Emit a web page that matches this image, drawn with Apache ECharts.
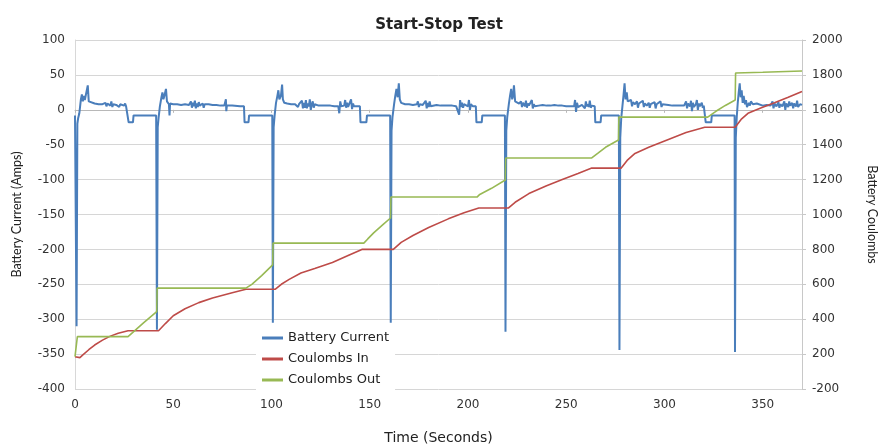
<!DOCTYPE html>
<html>
<head>
<meta charset="utf-8">
<script src="https://cdn.jsdelivr.net/npm/echarts@6/dist/echarts.min.js"></script>
<style>html,body{margin:0;padding:0;background:#fff;}#c{width:878px;height:444px;}</style>
</head>
<body>
<div id="c"></div>
<script>
// ---- Data ----
const seriesNames = ['Battery Current', 'Coulombs In', 'Coulombs Out'];
const leftTicks = { min: -400, max: 100, interval: 50 };
const rightTickLabels = ['-200','200','400','600','800','1000','1200','1400','1600','1800','2000'];
const xTicks = { min: 0, max: 370, interval: 50 };

// Battery Current [seconds, amps]
const batteryCurrent = [
 [0,-8],[0.5,-10],[0.8,-310],[1.2,-20],[1.6,-12],[2.2,-5],[3,15],[3.5,22],[4,12],[4.5,20],[5,14],[6,12],[6.5,35],[7,12],[8,10],[10,9],[12,8],[14,8],[15,7],[15.5,10],[16,5],[16.5,9],[17,8],[18,6],[18.5,12],[19,4],[19.5,8],[21,7],[22,9],[22.5,4],[23,8],[24,7],[25,6],[25.5,9],[26,5],[27,6],[27.3,-18],[29.5,-18],[29.8,-8],[41.3,-8],
 [41.7,-315],[42.1,-25],[42.6,-10],[43.2,5],[44,18],[44.5,25],[45,15],[45.5,20],[46.3,30],[46.8,12],[47.8,8],[48.1,-8],[48.4,9],[50,8],[52,8],[54,7],[56,8],[58,7],[59,12],[59.5,3],[60,10],[60.5,5],[61,13],[61.5,2],[62,9],[62.5,4],[63,11],[63.5,6],[64,8],[65,9],[65.5,3],[66,8],[67,6],[68,8],[70,7],[72,7],[74,6],[76,6],[76.8,15],[77,-2],[77.3,6],[80,6],[84,5],[86,5],[86.3,-18],[88.3,-18],[88.6,-8],[100.4,-8],
 [100.7,-305],[101.1,-25],[101.6,-8],[102.3,10],[103,20],[103.5,28],[104,15],[104.8,20],[105.4,36],[105.8,15],[106.5,10],[108,9],[110,8],[112,8],[113,10],[113.5,4],[114,8],[115,7],[115.5,13],[116,2],[116.5,10],[117,3],[117.5,14],[118,2],[118.5,9],[119,5],[119.5,15],[120,0],[120.5,8],[121,12],[121.5,3],[122,8],[123,7],[124,6],[126,6],[128,6],[130,6],[132,5],[134,5],[134.5,-5],[135,12],[135.5,5],[137,6],[137.5,14],[138,3],[138.5,10],[139,4],[140,6],[140.5,15],[141,1],[141.5,9],[142,5],[143,6],[145,5],[145.3,-18],[148.3,-18],[148.6,-8],[160.4,-8],
 [160.7,-305],[161.1,-30],[161.6,-10],[162.4,8],[163,20],[163.6,30],[164.2,18],[164.8,38],[165.3,15],[166,10],[168,8],[170,8],[172,7],[174,8],[174.5,12],[175,4],[175.5,8],[177,7],[178,8],[178.5,13],[179,2],[179.5,10],[180,4],[180.5,12],[181,5],[182,7],[184,7],[186,6],[188,6],[190,6],[192,6],[194,5],[195,6],[195.5,-7],[196,14],[196.5,4],[197,10],[197.5,3],[198,8],[199,6],[200,5],[200.5,14],[201,0],[201.5,8],[202.5,5],[204,5],[204.3,-18],[207,-18],[207.3,-8],[218.8,-8],
 [219.1,-318],[219.5,-30],[220,-10],[220.8,8],[221.4,20],[222,30],[222.5,15],[223,20],[223.4,35],[224,12],[225,10],[226,9],[227,12],[227.5,4],[228,10],[229,5],[229.5,13],[230,3],[230.5,9],[231,6],[232,8],[232.5,14],[233,2],[233.5,8],[234,5],[235,7],[236,6],[238,7],[240,6],[242,6],[244,7],[246,6],[248,6],[250,5],[252,5],[253,6],[254,5],[254.5,14],[255,-3],[255.5,10],[256,4],[258,7],[259,9],[259.5,2],[260,12],[260.5,5],[261,8],[261.5,4],[262,13],[262.5,3],[263,6],[264.5,5],[264.8,-18],[267.5,-18],[267.8,-8],[276.8,-8],
 [277.1,-344],[277.5,-40],[278,-12],[278.6,5],[279.2,22],[279.7,38],[280.2,15],[280.8,25],[281.3,12],[282,10],[283,14],[283.5,5],[284,11],[285,8],[286,12],[286.5,3],[287,9],[288,7],[289,13],[289.5,4],[290,9],[291,6],[292,10],[292.5,3],[293,8],[294,6],[295,11],[295.5,2],[296,8],[297,7],[298,12],[298.5,4],[299,8],[300,6],[302,7],[304,6],[306,6],[308,6],[310,6],[311,12],[311.5,2],[312,9],[313,5],[313.5,13],[314,-2],[314.5,10],[315,4],[316,8],[316.5,14],[317,0],[317.5,9],[318,5],[319,10],[319.5,3],[320,6],[320.8,5],[321,-18],[323.8,-18],[324.1,-8],[335.7,-8],
 [335.9,-347],[336.3,-40],[336.8,-10],[337.3,10],[337.8,25],[338.3,38],[338.8,18],[339.3,28],[339.8,10],[340.3,20],[341,8],[341.5,14],[342,4],[343,10],[343.5,6],[344,12],[345,8],[346,7],[347,9],[348,7],[350,6],[352,7],[354,6],[355,12],[355.5,2],[356,9],[357,5],[358,11],[358.5,3],[359,8],[360,5],[361,12],[361.5,0],[362,9],[363,4],[363.5,12],[364,6],[365,10],[365.5,2],[366,9],[367,5],[367.5,13],[368,4],[369,8],[370,7]
];

// Coulombs In [seconds, coulombs]
const coulombsIn = [
 [0,185],[1,182],[2.5,180],[4,195],[7,225],[10,252],[14,280],[18,303],[22,320],[27,334],[42.5,334],[46,375],[50,420],[56,460],[63,495],[70,522],[80,552],[87,572],[102,572],[105,600],[109,628],[115,665],[122,690],[131,725],[139,765],[146,800],[162,800],[166,840],[172,880],[180,925],[190,975],[198,1010],[205.5,1037],[220.5,1037],[224,1070],[231,1120],[240,1165],[248,1200],[256,1235],[263,1266],[278,1266],[281,1310],[285,1350],[292,1385],[302,1430],[311,1470],[320.5,1500],[336,1500],[339,1545],[342.5,1580],[349,1610],[356,1640],[363,1672],[370,1705]
];

// Coulombs Out [seconds, coulombs]
const coulombsOut = [
 [0,185],[0.8,185],[1.2,300],[27,300],[28,305],[30,330],[35,380],[41.6,443],[41.8,578],[87,578],[90,600],[95,650],[100.6,711],[100.8,836],[147,836],[149,860],[152,895],[157,945],[160.6,980],[160.8,1100],[204.6,1100],[206,1115],[212,1150],[219,1198],[219.2,1324],[263,1324],[266,1350],[270,1385],[276.6,1427],[276.8,1558],[322,1558],[326,1590],[331,1625],[336,1656],[336.2,1811],[350,1815],[370,1822]
];

const colors = ['#4a7ebb', '#be4b48', '#98b954'];
const tickFont = { fontFamily: 'DejaVu Sans', fontSize: 12, color: '#333' };

const chart = echarts.init(document.getElementById('c'), null, { renderer: 'canvas' });
chart.setOption({
  animation: false,
  backgroundColor: '#fff',
  color: colors,
  title: {
    text: 'Start-Stop Test', left: 'center', top: 13,
    textStyle: { fontFamily: 'DejaVu Sans', fontWeight: 'bold', fontSize: 15, color: '#222' }
  },
  legend: {
    orient: 'vertical', left: 256, top: 327,
    icon: 'rect', itemWidth: 21, itemHeight: 3, itemGap: 7,
    backgroundColor: '#fff', padding: [4, 6],
    textStyle: { fontFamily: 'DejaVu Sans', fontSize: 13, color: '#222', lineHeight: 14 },
    data: seriesNames
  },
  grid: { left: 75, right: 76, top: 40, bottom: 55, outerBoundsMode: 'none', containLabel: false },
  xAxis: {
    type: 'value', min: xTicks.min, max: xTicks.max, interval: xTicks.interval,
    name: 'Time (Seconds)', nameLocation: 'middle', nameGap: 42,
    nameTextStyle: { fontFamily: 'DejaVu Sans', fontSize: 14, color: '#222' },
    axisLine: { lineStyle: { color: '#b8b8b8' } },
    axisTick: { show: true, length: 3, lineStyle: { color: '#b8b8b8' } },
    axisLabel: Object.assign({ margin: 10, showMaxLabel: false }, tickFont),
    splitLine: { show: false }
  },
  yAxis: [
    {
      type: 'value', min: leftTicks.min, max: leftTicks.max, interval: leftTicks.interval,
      name: 'Battery Current (Amps)', nameLocation: 'middle', nameGap: 52, nameRotate: 90,
      nameTextStyle: { fontFamily: 'Lato', fontSize: 12.5, color: '#222' },
      axisLine: { show: true, lineStyle: { color: '#d8d8d8' } },
      axisTick: { show: false },
      axisLabel: Object.assign({ margin: 10 }, tickFont),
      splitLine: { lineStyle: { color: '#d6d6d6', width: 1 } }
    },
    {
      type: 'value', min: 0, max: 2000, interval: 200, position: 'right',
      name: 'Battery Coulombs', nameLocation: 'middle', nameGap: 64, nameRotate: -90,
      nameTextStyle: { fontFamily: 'Lato', fontSize: 12.5, color: '#222' },
      axisLine: { show: true, lineStyle: { color: '#c8c8c8' } },
      axisTick: { show: true, length: 4, lineStyle: { color: '#c8c8c8' } },
      axisLabel: Object.assign({ margin: 10, formatter: v => rightTickLabels[Math.round(v / 200)] }, tickFont),
      splitLine: { show: false }
    }
  ],
  series: [
    { name: seriesNames[0], type: 'line', yAxisIndex: 0, data: batteryCurrent, showSymbol: false, symbol: 'none',
      lineStyle: { width: 2, color: colors[0] } },
    { name: seriesNames[1], type: 'line', yAxisIndex: 1, data: coulombsIn, showSymbol: false, symbol: 'none',
      lineStyle: { width: 1.6, color: colors[1] } },
    { name: seriesNames[2], type: 'line', yAxisIndex: 1, data: coulombsOut, showSymbol: false, symbol: 'none',
      lineStyle: { width: 1.6, color: colors[2] } }
  ]
});
</script>
</body>
</html>
